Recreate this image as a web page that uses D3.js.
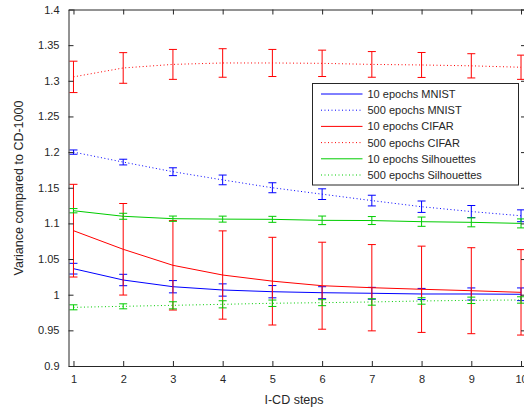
<!DOCTYPE html>
<html>
<head>
<meta charset="utf-8">
<script src="https://cdn.jsdelivr.net/npm/d3@7"></script>
<style>
  body { margin: 0; background: #fff; }
  text { font-family: "Liberation Sans", Arial, sans-serif; fill: #262626; }
</style>
</head>
<body>
<svg id="chart" width="524" height="409"></svg>
<script>
// I-CD steps on the x axis.
const steps = [1, 2, 3, 4, 5, 6, 7, 8, 9, 10];
const yTicks = [0.9, 0.95, 1, 1.05, 1.1, 1.15, 1.2, 1.25, 1.3, 1.35, 1.4];

// Mean variance and half error bar per series.
const mnist10 = [1.0365, 1.0206, 1.0112, 1.0066, 1.0042, 1.0028, 1.002, 1.001, 1.001, 1.0006];
const mnist10Err = [0.0075, 0.008, 0.0086, 0.0086, 0.0086, 0.0084, 0.0083, 0.0078, 0.0085, 0.0089];
const mnist500 = [1.2, 1.186, 1.1725, 1.161, 1.150, 1.141, 1.132, 1.1234, 1.1166, 1.1107];
const mnist500Err = [0.003, 0.004, 0.0055, 0.0068, 0.007, 0.0075, 0.0075, 0.008, 0.0085, 0.0083];
const cifar10 = [1.0898, 1.0637, 1.0412, 1.0276, 1.019, 1.0126, 1.0098, 1.0076, 1.0056, 1.0033];
const cifar10Err = [0.065, 0.0642, 0.0627, 0.0619, 0.0615, 0.061, 0.0605, 0.0605, 0.0603, 0.0599];
const cifar500 = [1.3055, 1.318, 1.323, 1.325, 1.325, 1.3245, 1.323, 1.3222, 1.321, 1.319];
const cifar500Err = [0.022, 0.0215, 0.021, 0.020, 0.019, 0.0185, 0.018, 0.0175, 0.017, 0.017];
const silh10 = [1.1178, 1.110, 1.1066, 1.106, 1.1057, 1.1043, 1.104, 1.1024, 1.1015, 1.100];
const silh10Err = [0.003, 0.0042, 0.0037, 0.0042, 0.0042, 0.006, 0.0056, 0.0065, 0.0063, 0.0063];
const silh500 = [0.9823, 0.9837, 0.9851, 0.9865, 0.988, 0.9888, 0.9898, 0.9912, 0.9921, 0.9926];
const silh500Err = [0.0035, 0.0035, 0.005, 0.005, 0.0045, 0.0042, 0.0045, 0.0045, 0.0045, 0.0045];

const seriesNames = ['10 epochs MNIST', '500 epochs MNIST', '10 epochs CIFAR',
  '500 epochs CIFAR', '10 epochs Silhouettes', '500 epochs Silhouettes'];

const blue = '#0000ff', red = '#ff0000', green = '#00cc00';
const series = [
  {name: seriesNames[0], vals: mnist10, err: mnist10Err, color: blue, dotted: false},
  {name: seriesNames[1], vals: mnist500, err: mnist500Err, color: blue, dotted: true},
  {name: seriesNames[2], vals: cifar10, err: cifar10Err, color: red, dotted: false},
  {name: seriesNames[3], vals: cifar500, err: cifar500Err, color: red, dotted: true},
  {name: seriesNames[4], vals: silh10, err: silh10Err, color: green, dotted: false},
  {name: seriesNames[5], vals: silh500, err: silh500Err, color: green, dotted: true},
];

const svg = d3.select('#chart');
const axisColor = '#262626';

const x = d3.scaleLinear().domain([0.9, 10.1]).range([68.5, 526]);
const y = d3.scaleLinear().domain([0.9, 1.4]).range([366, 9.5]);

const plot = svg.append('g');

// Lines and error bars.
const line = d3.line().x((d, i) => x(steps[i])).y(d => y(d));
series.forEach(function(s) {
  plot.append('path')
    .attr('d', line(s.vals))
    .attr('fill', 'none')
    .attr('stroke', s.color)
    .attr('stroke-width', 1)
    .attr('stroke-dasharray', s.dotted ? '1,2.5' : null);

  const bars = plot.append('g').attr('stroke', s.color).attr('stroke-width', 1).attr('fill', 'none');
  s.vals.forEach(function(v, i) {
    const cx = x(steps[i]), lo = y(v - s.err[i]), hi = y(v + s.err[i]);
    bars.append('line').attr('x1', cx).attr('x2', cx).attr('y1', lo).attr('y2', hi);
    bars.append('line').attr('x1', cx - 4).attr('x2', cx + 4).attr('y1', lo).attr('y2', lo);
    bars.append('line').attr('x1', cx - 4).attr('x2', cx + 4).attr('y1', hi).attr('y2', hi);
  });
});

// Axes box (left/bottom with labels, top/right with ticks only).
const xAxis = d3.axisBottom(x).tickValues(steps).tickSizeInner(-5).tickSizeOuter(0).tickPadding(9);
const yAxis = d3.axisLeft(y).tickValues(yTicks).tickSizeInner(-5).tickSizeOuter(0).tickPadding(9)
  .tickFormat(d => d3.format('')(+d.toFixed(2)));

const gx = svg.append('g').attr('transform', 'translate(0,366)').call(xAxis);
const gy = svg.append('g').attr('transform', 'translate(68.5,0)').call(yAxis);
const gxTop = svg.append('g').attr('transform', 'translate(0,9.5)')
  .call(d3.axisTop(x).tickValues(steps).tickSizeInner(-5).tickSizeOuter(0).tickFormat(''));
const gyRight = svg.append('g').attr('transform', 'translate(526,0)')
  .call(d3.axisRight(y).tickValues(yTicks).tickSizeInner(-5).tickSizeOuter(0).tickFormat(''));

[gx, gy, gxTop, gyRight].forEach(function(g) {
  g.selectAll('path, line').attr('stroke', axisColor);
  g.selectAll('text').attr('font-size', 11).attr('fill', axisColor)
    .style('font-family', '"Liberation Sans", Arial, sans-serif');
});

svg.append('text')
  .attr('x', 294).attr('y', 404)
  .attr('text-anchor', 'middle')
  .attr('font-size', 12.5)
  .text('I-CD steps');

svg.append('text')
  .attr('transform', 'translate(22.5,188) rotate(-90)')
  .attr('text-anchor', 'middle')
  .attr('font-size', 12.5)
  .text('Variance compared to CD-1000');

// Legend.
const legend = svg.append('g').attr('transform', 'translate(312.5,83.5)');
legend.append('rect')
  .attr('width', 206).attr('height', 101.5)
  .attr('fill', '#fff').attr('stroke', axisColor).attr('stroke-width', 1);

series.forEach(function(s, i) {
  const ly = 10.5 + i * 16.2;
  legend.append('line')
    .attr('x1', 8.5).attr('x2', 50)
    .attr('y1', ly).attr('y2', ly)
    .attr('stroke', s.color).attr('stroke-width', 1)
    .attr('stroke-dasharray', s.dotted ? '1,2.5' : null);
  legend.append('text')
    .attr('x', 55).attr('y', ly + 4)
    .attr('font-size', 11)
    .text(s.name);
});
</script>
</body>
</html>
